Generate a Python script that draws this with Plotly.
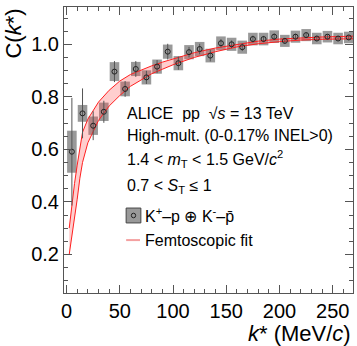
import plotly.graph_objects as go

# measured correlation function, K+p (+) K-pbar
k_star = [5, 15, 25, 35, 45, 55, 65, 75, 85, 95, 105, 115, 125, 135, 145,
          155, 165, 175, 185, 195, 205, 215, 225, 235, 245, 255, 265]
c_val = [0.591, 0.737, 0.690, 0.743, 0.896, 0.830, 0.906, 0.874, 0.915, 0.972,
         0.928, 0.970, 0.982, 0.957, 1.004, 1.000, 0.989, 1.020, 1.020, 1.029,
         1.013, 1.029, 1.035, 1.022, 1.029, 1.022, 1.026]
stat_err = [0.205, 0.095, 0.055, 0.042, 0.040, 0.030, 0.030, 0.025, 0.025, 0.030,
            0.025, 0.020, 0.020, 0.022, 0.016, 0.015, 0.015, 0.013, 0.012, 0.012,
            0.011, 0.011, 0.010, 0.010, 0.009, 0.009, 0.009]
sys_err = [0.080, 0.032, 0.035, 0.035, 0.036, 0.028, 0.027, 0.027, 0.027, 0.027,
           0.027, 0.027, 0.027, 0.026, 0.026, 0.025, 0.025, 0.024, 0.024, 0.024,
           0.023, 0.023, 0.023, 0.022, 0.022, 0.022, 0.022]

# femtoscopic fit band
fit_k = [2.5, 5, 7.5, 10, 12.5, 15, 20, 25, 30, 40, 50, 60, 70, 80, 90, 100,
         120, 140, 160, 180, 200, 220, 240, 270]
fit_low = [0.200, 0.265, 0.335, 0.410, 0.490, 0.550, 0.625, 0.670, 0.710, 0.765,
           0.805, 0.840, 0.865, 0.888, 0.905, 0.922, 0.950, 0.972, 0.990, 1.002,
           1.010, 1.016, 1.019, 1.021]
fit_up = [0.300, 0.390, 0.470, 0.540, 0.610, 0.665, 0.715, 0.750, 0.780, 0.825,
          0.860, 0.885, 0.903, 0.918, 0.932, 0.945, 0.968, 0.986, 1.000, 1.012,
          1.020, 1.025, 1.028, 1.031]

FONT = "Liberation Sans, Arial, sans-serif"

fig = go.Figure()

# systematic boxes
fig.add_trace(go.Bar(
    x=k_star,
    y=[2 * s for s in sys_err],
    base=[c - s for c, s in zip(c_val, sys_err)],
    width=9,
    marker=dict(color='#999999', line=dict(width=0)),
    showlegend=False, hoverinfo='skip'
))

# fit band
fig.add_trace(go.Scatter(
    x=fit_k, y=fit_low, mode='lines',
    line=dict(color='#ff2020', width=1), showlegend=False
))
fig.add_trace(go.Scatter(
    x=fit_k, y=fit_up, mode='lines', fill='tonexty',
    fillcolor='rgba(255,80,80,0.28)',
    line=dict(color='#ff2020', width=1), showlegend=False
))

# data points with statistical errors
fig.add_trace(go.Scatter(
    x=k_star, y=c_val, mode='markers',
    marker=dict(symbol='circle-open', size=5, color='#222222', line=dict(width=1)),
    error_y=dict(type='data', array=stat_err, color='#555555', thickness=1, width=0),
    showlegend=False
))

axis_common = dict(
    showline=True, linecolor='#555555', linewidth=1, mirror='ticks',
    ticks='inside', ticklen=8, tickcolor='#555555', tickwidth=1,
    showgrid=False, zeroline=False,
    tickfont=dict(family=FONT, size=20, color='black'),
)

fig.update_xaxes(range=[-2.4, 269], tickvals=[0, 50, 100, 150, 200, 250],
                 minor=dict(ticks='inside', dtick=10, ticklen=4, tickcolor='#555555'),
                 **axis_common)
fig.update_yaxes(range=[0.053, 1.142], tickvals=[0.2, 0.4, 0.6, 0.8, 1.0],
                 tickformat='.1f',
                 minor=dict(ticks='inside', dtick=0.05, ticklen=4, tickcolor='#555555'),
                 **axis_common)

txt = dict(family=FONT, size=16, color='black')
lines = [
    ("ALICE  pp  √<i>s</i> = 13 TeV", 0.629),
    ("High-mult. (0-0.17% INEL>0)", 0.552),
    ("1.4 < <i>m</i><sub>T</sub> < 1.5 GeV/<i>c</i><sup>2</sup>", 0.469),
    ("0.7 < <i>S</i><sub>T</sub> ≤ 1", 0.374),
]
for t, yy in lines:
    fig.add_annotation(text=t, x=0.211, y=yy, xref='paper', yref='paper',
                       xanchor='left', yanchor='middle', showarrow=False, font=txt)

# legend
fig.add_shape(type='rect', xref='paper', yref='paper', x0=0.215, x1=0.266,
              y0=0.245, y1=0.297, fillcolor='#999999', line=dict(color='#444444', width=1))
fig.add_shape(type='circle', xref='paper', yref='paper', x0=0.233, x1=0.248,
              y0=0.263, y1=0.279, line=dict(color='#222222', width=1))
fig.add_annotation(text="K<sup>+</sup>–p ⊕ K<sup>-</sup>–p̄", x=0.273, y=0.273,
                   xref='paper', yref='paper', xanchor='left', yanchor='middle',
                   showarrow=False, font=txt)
fig.add_shape(type='line', xref='paper', yref='paper', x0=0.215, x1=0.263,
              y0=0.185, y1=0.185, line=dict(color='#f4a0a0', width=2))
fig.add_annotation(text="Femtoscopic fit", x=0.273, y=0.185,
                   xref='paper', yref='paper', xanchor='left', yanchor='middle',
                   showarrow=False, font=txt)

# axis titles
fig.add_annotation(text="<i>k</i>* (MeV/<i>c</i>)", x=1.0, y=-0.142,
                   xref='paper', yref='paper', xanchor='right', yanchor='middle',
                   showarrow=False, font=dict(family=FONT, size=22, color='black'))
fig.add_annotation(text="C(<i>k</i>*)", x=-0.178, y=1.0, textangle=-90,
                   xref='paper', yref='paper', xanchor='center', yanchor='top',
                   showarrow=False, font=dict(family=FONT, size=22, color='black'))

fig.update_layout(
    width=357, height=346,
    margin=dict(l=64, r=4, t=7, b=53),
    plot_bgcolor='white', paper_bgcolor='white',
    barmode='overlay', showlegend=False,
)

fig.write_html("out.html", config={'displayModeBar': False},
               post_script="document.body.style.margin='0';")
